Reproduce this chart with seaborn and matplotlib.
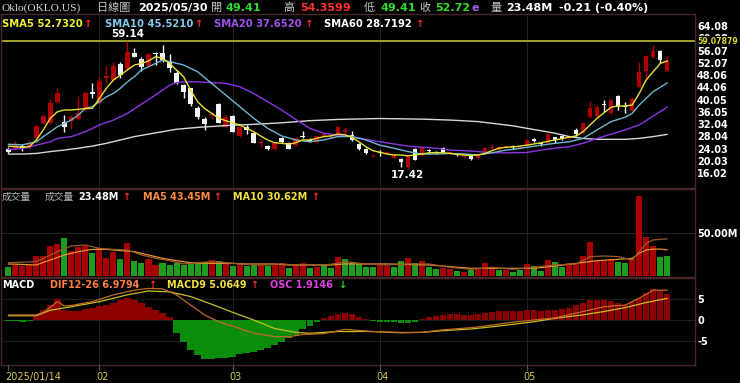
import numpy as np
import matplotlib
matplotlib.use("Agg")
import matplotlib.pyplot as plt
import seaborn as sns

# ---------------- data ----------------
opens = [24.1, 24.4, 24.9, 24.7, 27.4, 32.3, 32.3, 39.4, 32.9, 33.2,
         33.6, 36.7, 42.7, 39.1, 47.3, 46.5, 51.6, 50.0, 55.4, 53.2,
         51.1, 55.4, 55.4, 52.8, 48.8, 44.8, 43.8, 37.4, 33.6, 34.9,
         38.6, 31.0, 34.7, 28.2, 31.2, 29.3, 25.8, 24.9, 23.8, 27.4,
         26.0, 25.2, 28.3, 27.0, 26.3, 28.3, 28.2, 28.7, 29.5, 28.5,
         25.5, 24.0, 21.6, 23.0, 22.6, 21.0, 20.6, 18.0, 23.9, 22.0,
         23.5, 23.0, 24.2, 22.7, 22.2, 21.3, 21.7, 20.9, 22.5, 24.3,
         23.6, 24.6, 24.8, 24.2, 25.0, 27.3, 25.8, 26.0, 27.7, 28.2,
         27.4, 30.2, 29.1, 34.3, 34.7, 38.6, 35.8, 41.4, 38.0, 36.5,
         44.3, 49.5, 53.9, 56.1, 49.41]
highs = [24.7, 26.5, 25.5, 27.0, 31.8, 35.0, 40.3, 43.8, 35.0, 35.0,
         41.0, 42.7, 45.4, 47.6, 51.0, 52.5, 52.5, 59.14, 56.8, 54.1,
         55.4, 55.7, 57.9, 55.0, 49.8, 45.2, 44.0, 38.0, 34.3, 36.1,
         39.0, 35.0, 35.0, 31.6, 31.8, 29.6, 27.1, 25.2, 26.0, 27.7,
         26.3, 27.7, 29.8, 27.4, 28.5, 29.6, 29.0, 31.3, 31.2, 29.9,
         25.8, 24.2, 22.4, 23.6, 23.4, 22.7, 21.0, 22.2, 24.4, 24.8,
         24.0, 23.3, 24.5, 23.4, 22.4, 22.2, 22.0, 22.2, 24.6, 25.5,
         24.9, 25.4, 25.1, 24.9, 27.2, 27.6, 26.0, 29.2, 28.0, 28.4,
         28.6, 30.7, 32.9, 39.6, 38.3, 39.9, 40.3, 41.7, 39.4, 40.8,
         52.5, 54.6, 57.9, 56.4, 54.36]
lows = [22.7, 23.6, 23.4, 24.0, 26.9, 32.1, 32.1, 39.1, 29.6, 30.5,
        33.4, 36.5, 40.5, 38.7, 45.5, 46.3, 47.0, 49.8, 53.9, 49.5,
        50.8, 51.4, 52.5, 49.2, 45.2, 40.5, 38.0, 33.7, 30.2, 33.9,
        32.3, 30.8, 29.4, 27.9, 29.0, 25.8, 24.5, 23.5, 23.5, 25.8,
        23.8, 25.0, 27.4, 26.3, 26.0, 27.4, 27.6, 28.5, 28.4, 26.4,
        23.7, 22.4, 21.2, 21.5, 22.3, 20.8, 18.2, 17.42, 20.3, 21.8,
        22.4, 22.4, 22.5, 22.4, 21.6, 21.0, 20.3, 20.6, 22.3, 24.0,
        23.4, 24.2, 24.1, 24.0, 24.8, 26.1, 25.0, 25.8, 25.8, 26.8,
        27.0, 28.2, 28.9, 34.0, 34.5, 36.1, 35.5, 36.8, 35.8, 36.2,
        44.1, 46.5, 53.6, 52.0, 49.41]
closes = [23.1, 25.2, 24.2, 26.0, 31.5, 34.7, 39.1, 42.1, 31.2, 34.3,
          35.6, 42.3, 41.9, 46.3, 47.9, 51.1, 48.1, 55.7, 54.1, 50.6,
          55.0, 55.0, 53.0, 50.3, 45.4, 42.7, 38.6, 34.3, 32.1, 35.4,
          32.5, 34.3, 29.6, 31.2, 30.2, 26.0, 26.3, 23.8, 25.8, 26.3,
          24.1, 27.4, 28.0, 26.7, 28.2, 28.7, 28.9, 31.0, 30.2, 26.8,
          24.0, 22.6, 21.9, 22.7, 23.0, 22.4, 19.8, 22.0, 20.5, 24.5,
          23.2, 22.8, 22.9, 23.1, 21.9, 22.0, 20.6, 22.0, 24.2, 24.7,
          24.5, 24.9, 24.5, 24.6, 26.9, 26.5, 25.5, 28.8, 26.9, 27.3,
          28.2, 28.9, 32.3, 37.2, 37.6, 38.3, 40.0, 37.6, 37.6, 40.4,
          49.2, 54.3, 56.1, 52.93, 52.72]

volumes = [10.2, 13.0, 11.7, 12.9, 23.4, 23.4, 35.2, 37.5, 44.1, 29.3,
           33.6, 35.2, 27.3, 32.4, 21.5, 28.5, 19.9, 39.1, 18.0, 14.8,
           19.5, 12.9, 14.8, 12.9, 14.8, 12.9, 14.1, 15.6, 16.8, 18.8,
           17.6, 14.1, 11.7, 15.6, 11.7, 12.9, 12.9, 11.7, 14.1, 14.8,
           9.0, 12.9, 15.6, 9.0, 10.2, 12.9, 9.0, 21.9, 19.5, 15.6,
           14.1, 10.2, 10.9, 12.9, 11.7, 10.9, 18.0, 20.7, 15.6, 18.0,
           10.9, 7.8, 9.0, 7.8, 6.3, 5.1, 7.0, 9.0, 15.6, 10.2,
           7.0, 7.0, 5.1, 7.0, 14.1, 11.7, 6.3, 18.8, 16.8, 10.2,
           15.6, 15.6, 23.4, 39.5, 18.0, 18.8, 19.5, 16.8, 15.6, 19.5,
           93.8, 46.1, 35.2, 21.9, 23.48]
vol_up = [0, 1, 1, 1, 1, 1, 1, 1, 0, 1, 1, 1, 0, 1, 1, 1, 0, 1, 0, 0,
          1, 1, 0, 0, 0, 0, 0, 0, 0, 1, 0, 1, 0, 1, 0, 0, 1, 0, 1, 1,
          0, 1, 1, 0, 1, 0, 0, 1, 0, 0, 0, 0, 0, 1, 1, 0, 0, 1, 0, 1,
          0, 0, 1, 1, 0, 1, 0, 1, 1, 1, 0, 1, 0, 0, 1, 0, 0, 1, 0, 0,
          1, 1, 1, 1, 1, 1, 1, 0, 0, 1, 1, 1, 1, 0, 0]

sma5_idx = [0, 2, 3, 4, 5, 6, 7, 8, 9, 10, 11, 12, 13, 14, 15, 16, 17, 18, 19, 20,
            21, 22, 23, 25, 26, 27, 28, 29, 30, 31, 32, 33, 34, 35, 36, 37, 38, 39, 40,
            41, 42, 43, 44, 45, 46, 47, 48, 49, 50, 51, 52, 53, 54, 55, 56, 57, 58, 59,
            60, 61, 62, 63, 64, 65, 66, 67, 68, 69, 70, 71, 72, 74, 76, 78, 80, 81, 82,
            83, 84, 85, 86, 87, 88, 89, 90, 91, 92, 93, 94]
sma5_val = [24.9, 24.5, 24.7, 26.9, 30.2, 34.0, 36.1, 36.7, 36.7, 36.9, 37.2, 37.2,
            40.5, 43.8, 46.5, 48.1, 49.8, 51.4, 51.9, 52.7, 54.1, 53.6, 51.9, 47.6,
            43.2, 39.4, 37.2, 35.6, 34.0, 33.2, 32.5, 31.8, 30.7, 29.6, 28.2, 26.9,
            26.0, 25.8, 25.5, 26.0, 26.9, 26.9, 27.4, 28.0, 28.2, 28.8, 28.6, 27.8,
            26.3, 24.7, 23.4, 22.9, 22.3, 22.0, 22.0, 21.7, 22.0, 22.3, 22.7, 22.8,
            22.7, 22.5, 22.2, 22.0, 21.8, 22.0, 22.5, 23.4, 24.2, 24.5, 24.6, 25.2,
            26.0, 26.9, 27.8, 28.2, 29.6, 31.8, 34.0, 35.8, 37.6, 38.0, 38.0, 38.3,
            42.1, 46.5, 49.2, 51.9, 52.73]
sma10_idx = [0, 2, 3, 4, 5, 6, 7, 8, 9, 10, 11, 12, 13, 14, 15, 16, 17, 18, 19, 20,
             21, 22, 23, 25, 27, 29, 31, 33, 35, 37, 39, 41, 43, 45, 47, 49, 51, 53,
             55, 57, 59, 61, 63, 65, 67, 69, 71, 72, 74, 76, 78, 80, 82, 84, 86, 88,
             89, 90, 92, 94]
sma10_val = [25.5, 25.3, 25.8, 26.3, 28.0, 29.6, 31.2, 32.3, 33.4, 35.1, 37.2, 37.8,
             39.4, 41.0, 42.1, 43.8, 45.9, 47.6, 49.8, 50.8, 51.9, 53.0, 52.5, 51.4,
             49.2, 45.4, 41.6, 37.8, 34.0, 30.7, 28.2, 26.9, 26.3, 26.9, 28.0, 28.0,
             26.9, 25.2, 24.2, 23.1, 22.3, 22.3, 22.5, 22.3, 22.0, 22.7, 23.6, 23.8,
             24.5, 25.2, 25.8, 26.3, 27.4, 30.2, 32.9, 34.3, 35.6, 38.3, 42.7, 45.52]
sma20_idx = [0, 2, 4, 6, 7, 9, 11, 13, 15, 17, 19, 21, 23, 24, 25, 27, 29, 31, 33,
             35, 37, 39, 41, 43, 45, 47, 49, 51, 53, 55, 57, 59, 61, 63, 65, 67, 69,
             71, 72, 74, 76, 78, 80, 82, 84, 86, 88, 90, 92, 94]
sma20_val = [23.8, 24.1, 25.2, 26.3, 27.4, 28.0, 29.6, 31.8, 33.4, 35.6, 38.6, 41.6,
             44.8, 45.6, 45.9, 45.9, 45.6, 45.4, 44.3, 42.1, 39.4, 36.7, 33.6, 30.7,
             29.1, 28.5, 28.0, 27.1, 26.3, 25.6, 24.9, 24.5, 24.2, 23.6, 23.4, 23.1,
             22.7, 22.7, 22.7, 22.8, 23.6, 24.2, 24.7, 25.8, 27.4, 28.8, 30.2, 31.8,
             34.7, 37.65]
sma60_idx = [0, 2, 4, 6, 8, 10, 12, 14, 16, 18, 20, 22, 24, 27, 31, 35, 39, 43, 47,
             53, 59, 63, 67, 71, 72, 74, 76, 78, 80, 82, 84, 86, 88, 90, 92, 94]
sma60_val = [22.3, 22.3, 22.5, 23.1, 23.6, 24.2, 24.9, 25.8, 26.9, 28.0, 28.8, 29.6,
             30.4, 31.0, 31.6, 32.0, 32.5, 33.2, 33.6, 33.9, 33.7, 33.4, 32.9, 31.8,
             31.5, 30.7, 29.9, 29.1, 28.0, 27.4, 27.1, 27.1, 27.1, 27.4, 28.0, 28.72]

vma5_idx = [0, 4, 7, 9, 11, 13, 15, 17, 19, 21, 23, 25, 27, 29, 31, 33, 35, 37, 39,
            41, 43, 45, 47, 48, 51, 54, 57, 60, 63, 66, 69, 72, 75, 78, 81, 83, 85,
            87, 89, 90, 91, 92, 93, 94]
vma5_val = [15.6, 16.8, 28.5, 35.2, 36.3, 32.4, 31.2, 30.5, 24.6, 20.7, 18.0, 14.1,
            15.6, 16.8, 15.6, 14.1, 12.9, 12.9, 14.1, 12.9, 12.9, 12.9, 14.8, 16.8,
            14.1, 12.9, 14.1, 14.1, 10.2, 7.8, 10.2, 7.8, 10.2, 12.9, 14.1, 22.7,
            23.4, 22.7, 18.8, 28.5, 38.3, 42.2, 43.0, 43.45]
vma10_idx = [0, 4, 6, 8, 10, 12, 14, 16, 18, 20, 22, 24, 26, 28, 30, 32, 34, 36, 38,
             40, 42, 44, 46, 48, 54, 60, 66, 72, 75, 78, 81, 84, 87, 89, 90, 91, 92,
             93, 94]
vma10_val = [14.1, 12.9, 18.8, 24.6, 28.5, 31.2, 31.2, 29.7, 28.5, 24.6, 20.7, 18.0,
             15.6, 14.8, 14.8, 14.8, 14.1, 14.1, 14.1, 12.9, 12.9, 12.9, 12.9, 14.1,
             14.1, 12.9, 9.0, 9.0, 9.0, 11.7, 14.8, 18.0, 19.5, 20.7, 26.6, 30.5,
             31.5, 31.5, 30.62]

dif_idx = [0, 4, 5, 6, 7, 8, 9, 12, 15, 18, 20, 22, 24, 26, 28, 30, 33, 35, 38, 40,
           42, 45, 48, 52, 56, 59, 62, 66, 69, 72, 75, 78, 82, 85, 88, 90, 92, 94]
dif_val = [1.2, 1.2, 1.8, 3.0, 4.3, 3.3, 3.4, 4.3, 5.9, 7.0, 7.4, 7.3, 5.9, 3.5, 1.2,
           -0.4, -2.0, -3.1, -3.9, -3.9, -3.4, -3.2, -2.2, -2.7, -2.9, -2.9, -2.3,
           -1.8, -1.2, -0.5, 0.0, 0.5, 2.0, 3.1, 3.5, 5.1, 7.0, 6.98]
sig_idx = [0, 4, 6, 9, 13, 17, 20, 23, 26, 29, 32, 35, 38, 41, 43, 47, 52, 56, 59,
           62, 66, 69, 72, 75, 78, 82, 85, 88, 91, 94]
sig_val = [1.0, 1.0, 2.3, 3.1, 4.3, 5.9, 6.8, 6.6, 5.5, 3.7, 1.8, 0.0, -2.0, -2.9,
           -3.1, -2.7, -2.7, -3.0, -2.9, -2.5, -2.1, -1.6, -1.0, -0.4, 0.4, 1.2,
           2.0, 2.9, 4.1, 5.06]
osc = [-0.3, -0.3, -0.4, -0.2, 1.2, 2.3, 3.5, 4.9, 2.3, 2.1,
       2.2, 2.6, 2.9, 3.2, 3.6, 4.1, 4.8, 5.2, 4.7, 3.9,
       3.1, 2.3, 1.6, 0.7, -3.0, -5.2, -7.0, -8.2, -9.1, -9.1,
       -9.0, -8.8, -8.6, -8.0, -7.7, -7.4, -7.1, -6.6, -5.9, -5.1,
       -4.2, -3.4, -2.2, -1.3, -0.5, 0.4, 1.0, 1.4, 1.6, 1.3,
       0.8, 0.2, -0.3, -0.4, -0.4, -0.5, -0.8, -0.6, -0.4, 0.3,
       0.7, 0.9, 1.2, 1.3, 1.3, 1.2, 1.2, 1.3, 1.6, 1.8,
       2.0, 2.0, 2.1, 2.2, 2.3, 2.3, 2.2, 2.3, 2.3, 2.6,
       2.8, 3.4, 4.0, 4.6, 4.8, 4.7, 4.5, 4.0, 3.6, 4.2,
       5.2, 6.3, 7.2, 6.9, 6.1]

price_ticks = [16.02, 20.03, 24.03, 28.04, 32.04, 36.05, 40.05, 44.06, 48.06,
               52.07, 56.07, 60.08, 64.08]
ref_line = 59.07879
month_idx = [0, 13, 32, 53, 74]
month_lbl = ["2025/01/14", "02", "03", "04", "05"]

# ---------------- style ----------------
sns.set_theme(style="dark")
plt.rcParams["font.family"] = ["DejaVu Sans", "Noto Sans CJK TC"]

W, H = 740, 383
fig = plt.figure(figsize=(W / 100, H / 100), dpi=100, facecolor="black")
FRAME = "#4a2626"
XMIN, XMAX = -1.04, 97.96


def ax_at(l, t, r, b):
    ax = fig.add_axes([l / W, 1 - b / H, (r - l) / W, (b - t) / H])
    ax.set_facecolor("black")
    for s in ax.spines.values():
        s.set_color(FRAME)
        s.set_linewidth(1.0)
    ax.set_xlim(XMIN, XMAX)
    ax.set_xticks([])
    ax.grid(False)
    ax.yaxis.tick_right()
    ax.tick_params(axis="y", length=0, pad=1.5, colors="white", labelsize=7)
    for m in month_idx[1:]:
        ax.axvline(m, color="#1f1f1f", lw=0.8, zorder=0)
    return ax


def ftext(x, y, s, color="white", size=7.2, weight="bold", family=None, ha="left"):
    kw = {}
    if family is not None:
        kw["family"] = family
    fig.text(x / W, 1 - y / H, s, color=color, fontsize=size, fontweight=weight,
             ha=ha, va="center", **kw)


x = np.arange(len(closes))
o = np.array(opens); c = np.array(closes); hi = np.array(highs); lo = np.array(lows)

# ---------------- price panel ----------------
ax1 = ax_at(1, 14, 695, 188)
ax1.set_ylim(11.2, 68.05)
ax1.axhline(ref_line, color="#b0b02a", lw=1.3, zorder=1)
up = c >= o
ccol = np.where(up, "#b00000", "#f4f4f4")
ax1.vlines(x, lo, hi, colors=ccol, lw=1.0, zorder=2)
body_h = np.maximum(np.abs(c - o), 0.15)
ax1.bar(x, body_h, bottom=np.minimum(o, c), width=0.64, color=ccol, zorder=3, linewidth=0)
for idx, val, col, lw in [(sma60_idx, sma60_val, "#d8d8d8", 1.0),
                          (sma20_idx, sma20_val, "#8a36e0", 1.0),
                          (sma10_idx, sma10_val, "#6cb8d0", 1.0),
                          (sma5_idx, sma5_val, "#e6e030", 1.0)]:
    sns.lineplot(x=np.array(idx), y=np.array(val), ax=ax1, color=col, lw=lw,
                 legend=False, zorder=4)
ax1.set_yticks(price_ticks)
ax1.set_yticklabels([f"{t:.2f}" for t in price_ticks], fontweight="bold")
ax1.set_xlabel(""); ax1.set_ylabel("")
imax = int(np.argmax(hi)); imin = int(np.argmin(lo))
ax1.text(imax, 61.5, f"{hi[imax]:.2f}", color="white", fontsize=7.5,
         fontweight="bold", ha="center", va="center")
ax1.text(imin, 15.4, f"{lo[imin]:.2f}", color="white", fontsize=7.5,
         fontweight="bold", ha="center", va="center")
ax1.text(1.004, ref_line, f"{ref_line:.5f}", transform=ax1.get_yaxis_transform(),
         color="#d8d830", fontsize=5.6, fontweight="bold", ha="left", va="center",
         bbox=dict(facecolor="black", edgecolor="none", pad=0.6), clip_on=False)

# ---------------- volume panel ----------------
ax2 = ax_at(1, 189, 695, 277)
ax2.set_ylim(-1.17, 101.9)
ax2.axhline(50, color="#222222", lw=0.8, zorder=0)
vcol = ["#a80000" if u else "#1e9e1e" for u in vol_up]
ax2.bar(x, volumes, width=0.86, color=vcol, linewidth=0, zorder=2)
sns.lineplot(x=np.array(vma10_idx), y=np.array(vma10_val), ax=ax2, color="#e8922a",
             lw=0.9, legend=False, zorder=3)
sns.lineplot(x=np.array(vma5_idx), y=np.array(vma5_val), ax=ax2, color="#9a5a2a",
             lw=0.9, legend=False, zorder=3)
ax2.set_yticks([50]); ax2.set_yticklabels(["50.00M"], fontweight="bold")
ax2.set_xlabel(""); ax2.set_ylabel("")

# ---------------- MACD panel ----------------
ax3 = ax_at(1, 278, 695, 365)
ax3.set_ylim(-10.54, 9.84)
for gy in (5, 0, -5):
    ax3.axhline(gy, color="#1c1c1c", lw=0.8, zorder=0)
osc_a = np.array(osc)
ax3.bar(x, osc_a, width=0.92, color=np.where(osc_a >= 0, "#8c0000", "#0c8c0c"),
        linewidth=0, zorder=2)
sns.lineplot(x=np.array(sig_idx), y=np.array(sig_val), ax=ax3, color="#c8c020",
             lw=0.9, legend=False, zorder=3)
sns.lineplot(x=np.array(dif_idx), y=np.array(dif_val), ax=ax3, color="#c06a2a",
             lw=0.9, legend=False, zorder=3)
ax3.set_yticks([5, 0, -5]); ax3.set_yticklabels(["5", "0", "-5"], fontweight="bold")
ax3.set_xlabel(""); ax3.set_ylabel("")

# month labels and ticks under the MACD panel
for m, lbl in zip(month_idx, month_lbl):
    px = 1 + (m - XMIN) / (XMAX - XMIN) * 694
    fig.add_artist(plt.Line2D([px / W, px / W], [1 - 365 / H, 1 - 370 / H],
                              color="#555555", lw=0.8))
    ftext(px - 3.5, 377, lbl, color="#d8c858", size=7, weight="normal")

# ---------------- header & legends ----------------
G = "#c4c4c4"
ftext(1, 8, "Oklo(OKLO.US)", color="#d8d8d8", size=8.2, weight="normal",
      family="Liberation Serif")
ftext(97, 8, "日線圖", color=G, size=8, weight="normal")
ftext(138, 8, "2025/05/30", size=8)
ftext(211, 8, "開", color=G, size=8, weight="normal")
ftext(226, 8, "49.41", color="#30dc30", size=8)
ftext(283, 8, "高", color=G, size=8, weight="normal")
ftext(300, 8, "54.3599", color="#ff3030", size=8)
ftext(364, 8, "低", color=G, size=8, weight="normal")
ftext(381, 8, "49.41", color="#30dc30", size=8)
ftext(419, 8, "收", color=G, size=8, weight="normal")
ftext(435, 8, "52.72", color="#30dc30", size=8)
ftext(471, 8, "e", color="#9a66dd", size=8)
ftext(490, 8, "量", color=G, size=8, weight="normal")
ftext(506, 8, "23.48M", size=8)
ftext(559, 8, "-0.21 (-0.40%)", size=8)

RED = "#ff2a2a"
ftext(2, 24, "SMA5 52.7320", color="#f0f030")
ftext(83, 24, "↑", color=RED)
ftext(105, 24, "SMA10 45.5210", color="#80c8ec")
ftext(194, 24, "↑", color=RED)
ftext(214, 24, "SMA20 37.6520", color="#a050f0")
ftext(304, 24, "↑", color=RED)
ftext(324, 24, "SMA60 28.7192", color="white")
ftext(415, 24, "↑", color=RED)

ftext(2, 197, "成交量", color="#b4b4b4", size=7, weight="normal")
ftext(45, 197, "成交量", color="#b4b4b4", size=7, weight="normal")
ftext(78, 197, "23.48M", size=6.9)
ftext(122, 197, "↑", color=RED, size=6.9)
ftext(143, 197, "MA5 43.45M", color="#ff8c40", size=6.9)
ftext(213, 197, "↑", color=RED, size=6.9)
ftext(233, 197, "MA10 30.62M", color="#f0e040", size=6.9)
ftext(311, 197, "↑", color=RED, size=6.9)

ftext(2, 285, "MACD", size=6.9)
ftext(50, 285, "DIF12-26 6.9794", color="#ff8040", size=6.9)
ftext(148, 285, "↑", color=RED, size=6.9)
ftext(167, 285, "MACD9 5.0649", color="#f0e040", size=6.9)
ftext(250, 285, "↑", color=RED, size=6.9)
ftext(270, 285, "OSC 1.9146", color="#e040e0", size=6.9)
ftext(338, 285, "↓", color="#30dc30", size=6.9)

fig.savefig("out.png", dpi=100, facecolor="black")
